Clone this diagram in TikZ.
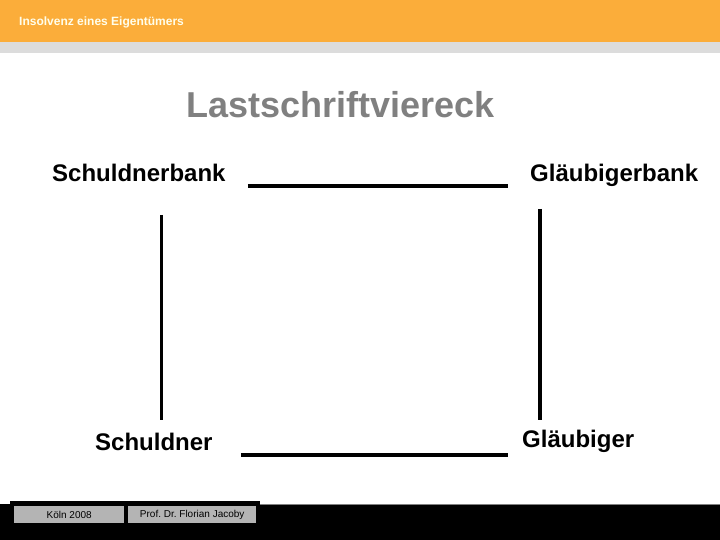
\documentclass[tikz,border=0pt]{standalone}
\usepackage{fontspec}
\setmainfont{Liberation Sans}
\usepackage{xcolor}
\usepackage{tikz}
\usetikzlibrary{positioning,calc}
\definecolor{headorange}{HTML}{FBAD3A}
\definecolor{headgray}{HTML}{DCDCDC}
\definecolor{titlegray}{HTML}{808080}
\definecolor{footgray}{HTML}{B4B4B4}
\tikzstyle{link} = [line width=4pt]
\tikzstyle{uplink} = [line width=3.5pt]
\tikzstyle{party} = [inner sep=0pt, anchor=base west, font=\fontsize{24}{28}\selectfont\bfseries]
\tikzset{
	footbox/.style = {rectangle, fill=footgray, inner sep=0pt,
		minimum width=#1, minimum height=17pt, anchor=north west,
		font=\fontsize{10}{12}\selectfont},
}

\begin{document}
\begin{tikzpicture}[x=1pt, y=-1pt]
%----------------------------------------------------------------------------
% Page frame, header and footer
\useasboundingbox (0,0) rectangle (720,540);
\fill [headorange] (0,0) rectangle (720,42);
\fill [headgray] (0,42) rectangle (720,53);
\node (headText) [inner sep=0pt, anchor=base west, text=white!92!yellow, font=\fontsize{12}{14}\selectfont\bfseries] at (19,26) {Insolvenz eines Eigentümers};

\fill [black] (0,504) rectangle (720,540);
\draw [titlegray, line width=1pt] (260,504) -- (720,504);
\fill [black] (10,501) rectangle (260,506);
\node (footPlace) [footbox=110pt] at (14,506) {Köln 2008};
\node (footAuthor) [footbox=128pt] at (128,506) {Prof.\ Dr.\ Florian Jacoby};

%----------------------------------------------------------------------------
% Title and parties
\node (title) [inner sep=0pt, anchor=base, text=titlegray, font=\fontsize{36}{40}\selectfont\bfseries] at (340.5,118) {Lastschriftviereck};

\node (debtorBank) [party] at (52,182) {Schuldnerbank};
\node (creditorBank) [party] at (530,182) {Gläubigerbank};
\node (debtor) [party] at (95,450) {Schuldner};
\node (creditor) [party] at (522,447) {Gläubiger};

%----------------------------------------------------------------------------
% Lines
\draw [link] ([xshift=22pt,yshift=-4pt]debtorBank.base east) -- ([xshift=-22pt,yshift=-4pt]creditorBank.base west);
\draw [link] ([xshift=28pt,yshift=-5pt]debtor.base east) -- ([xshift=-14pt,yshift=-8pt]creditor.base west);
\draw [uplink] ([xshift=109.5pt,yshift=-33pt]debtorBank.base west) -- ([xshift=66.5pt,yshift=30pt]debtor.base west);
\draw [uplink] ([xshift=10pt,yshift=-27pt]creditorBank.base west) -- ([xshift=18pt,yshift=27pt]creditor.base west);

\end{tikzpicture}
\end{document}
